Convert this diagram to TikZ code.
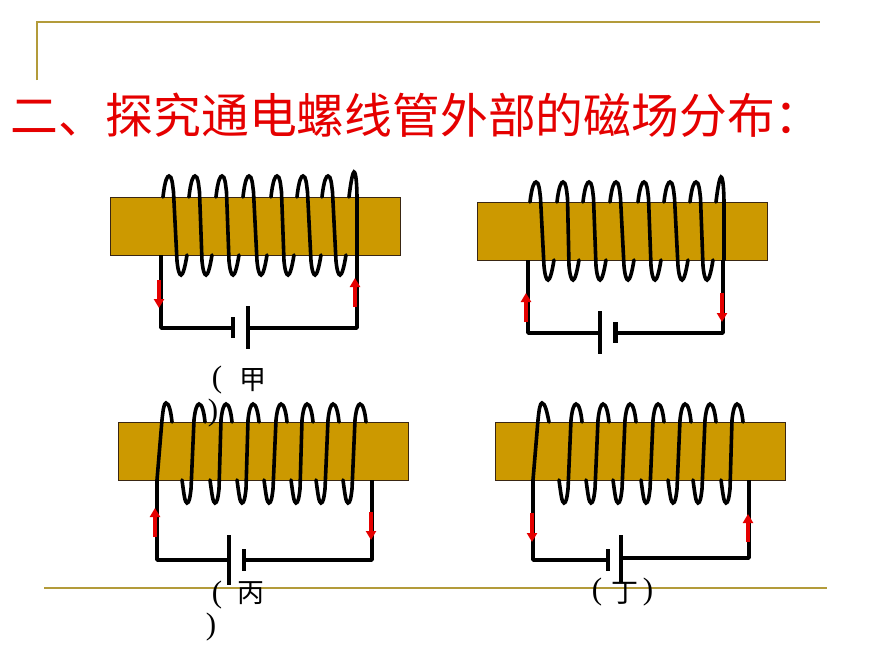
\documentclass[tikz,border=0pt]{standalone}
\usepackage{fontspec}
\newfontfamily\cjk{Noto Sans CJK SC}
\setmainfont{Liberation Serif}
\tikzset{
  wire/.style={line width=3.5pt,black,line join=round},
  coilw/.style={line width=3.6pt,black,line cap=round},
  core/.style={draw=black!70!brown,line width=0.6pt,fill=corecol,rectangle,minimum width=290pt,minimum height=58pt,inner sep=0pt,outer sep=0pt},
  frameline/.style={draw=framecol,line width=1.8pt},
  cur/.style={red!90!black,line width=3.8pt,-{Triangle[length=9pt,width=10pt]}},
  lab/.style={inner sep=0pt,font=\cjk\fontsize{27}{27}\selectfont},
  par/.style={inner sep=0pt,font=\fontsize{31}{31}\selectfont}
}
\usetikzlibrary{arrows.meta}
\definecolor{corecol}{HTML}{CC9900}
\definecolor{framecol}{HTML}{B39B3A}
% turn leaning right going down: px tx peakY topEdge bottomEdge troughY
\newcommand{\turnA}[6]{\draw[coilw] ({#1-6},#4) .. controls ({#1-4},{#3+3}) and ({#1-1.5},#3) .. (#1,#3) .. controls ({#1+3},#3) and ({#1+3.5},{#3+8}) .. ({#1+4.5},{#3+16}) -- ({#2-4},{#6-14}) .. controls ({#2-3},{#6-4}) and ({#2-1.5},#6) .. (#2,#6) .. controls ({#2+2},#6) and ({#2+4},{#6-8}) .. ({#2+6},#5);}
% turn leaning left going up: tx px peakY topEdge bottomEdge troughY
\newcommand{\turnB}[6]{\draw[coilw] ({#1-5},#5) .. controls ({#1-3},{#6-8}) and ({#1-2},#6) .. (#1,#6) .. controls ({#1+2},#6) and ({#1+3},{#6-5}) .. ({#1+4},{#6-14}) -- ({#2-5},{#3+16}) .. controls ({#2-4},{#3+6}) and ({#2-2},#3) .. (#2,#3) .. controls ({#2+3},#3) and ({#2+5},{#3+8}) .. ({#2+6},#4);}
\begin{document}
\begin{tikzpicture}[x=1pt,y=-1pt]
\useasboundingbox (0,0) rectangle (870,653);
\fill[white] (0,0) rectangle (870,653);
% frame
\coordinate (ftl) at (37,22); \coordinate (ftr) at (820,22); \coordinate (fbl) at (37,80);
\coordinate (bl) at (44,588); \coordinate (br) at (827,588);
\draw[frameline] (fbl) -- (ftl) -- (ftr);
\draw[frameline] (bl) -- (br);
\node[text=red!90!black,inner sep=0pt,anchor=west,font=\cjk\fontsize{47.8}{50}\selectfont] (title) at (10,115) {二、探究通电螺线管外部的磁场分布：};

% ---- panel jia
\node[core] (c1) at (255,226) {};
\foreach \p/\t in {169/181,195/206,222/233,249/261,277/288,303/315,328/340}{\turnA{\p}{\t}{176}{197}{255}{275}}
\draw[coilw] (349,197) .. controls (351,180) and (353,172) .. (354,172) .. controls (356,172) and (357,185) .. (357,200) -- (357,255);
\coordinate (a1) at (161,255); \coordinate (a2) at (161,328); \coordinate (a3) at (357,255); \coordinate (a4) at (357,328);
\coordinate (ps1) at (233,328); \coordinate (pl1) at (248,328);
\draw[wire] (a1) -- (a2) -- (ps1);
\draw[wire] (a3) -- (a4) -- (pl1);
\draw[wire] (233,317) -- (233,338);
\draw[wire] (248,306) -- (248,349);
\coordinate (r1a) at (159,280); \coordinate (r1b) at (159,308); \coordinate (r1c) at (355,307); \coordinate (r1d) at (355,278);
\draw[cur] (r1a) -- (r1b);
\draw[cur] (r1c) -- (r1d);

% ---- panel yi
\node[core] (c2) at (622,231) {};
\foreach \p/\t in {536/548,563/573,589/600,616/628,644/655,670/682,696/707}{\turnA{\p}{\t}{182}{202}{260}{280}}
\draw[coilw] (716,202) .. controls (718,185) and (720,177) .. (721,177) .. controls (723,177) and (724,190) .. (724,205) -- (724,260);
\coordinate (b1) at (528,260); \coordinate (b2) at (528,333); \coordinate (b3) at (723,260); \coordinate (b4) at (723,333);
\coordinate (ps2) at (615,333); \coordinate (pl2) at (600,333);
\draw[wire] (b1) -- (b2) -- (pl2);
\draw[wire] (b3) -- (b4) -- (ps2);
\draw[wire] (600,311) -- (600,354);
\draw[line width=5pt] (615,322) -- (615,343);
\coordinate (r2a) at (526,322); \coordinate (r2b) at (526,293); \coordinate (r2c) at (722,293); \coordinate (r2d) at (722,322);
\draw[cur] (r2a) -- (r2b);
\draw[cur] (r2c) -- (r2d);

% ---- panel bing
\node[core] (c3) at (263,451) {};
\draw[coilw] (157,480) -- (162,420) .. controls (163,410) and (164,403) .. (166,403) .. controls (169,403) and (171,412) .. (172,422);
\foreach \t/\p in {187/199,215/226,242/253,269/281,296/307,321/333,348/360}{\turnB{\t}{\p}{404}{422}{480}{503}}
\coordinate (d1) at (157,480); \coordinate (d2) at (157,560); \coordinate (d3) at (372,480); \coordinate (d4) at (372,560);
\coordinate (pl3) at (229,560); \coordinate (ps3) at (244,560);
\draw[wire] (d1) -- (d2) -- (pl3);
\draw[wire] (d3) -- (d4) -- (ps3);
\draw[wire] (229,535) -- (229,585);
\draw[wire] (244,549) -- (244,571);
\coordinate (r3a) at (155,537); \coordinate (r3b) at (155,508); \coordinate (r3c) at (371,512); \coordinate (r3d) at (371,540);
\draw[cur] (r3a) -- (r3b);
\draw[cur] (r3c) -- (r3d);

% ---- panel ding
\node[core] (c4) at (640,451) {};
\draw[coilw] (533,480) -- (538,420) .. controls (539,410) and (540,403) .. (542,403) .. controls (545,403) and (547,412) .. (549,422);
\foreach \t/\p in {564/576,591/603,618/630,646/658,673/685,698/710,726/737}{\turnB{\t}{\p}{404}{422}{480}{503}}
\coordinate (e1) at (533,480); \coordinate (e2) at (533,560); \coordinate (e3) at (749,480); \coordinate (e4) at (749,558);
\coordinate (ps4) at (608,560); \coordinate (pl4) at (621,558);
\draw[wire] (e1) -- (e2) -- (ps4);
\draw[wire] (e3) -- (e4) -- (pl4);
\draw[wire] (608,549) -- (608,571);
\draw[wire] (621,535) -- (621,583);
\coordinate (r4a) at (532,513); \coordinate (r4b) at (532,542); \coordinate (r4c) at (748,542); \coordinate (r4d) at (748,514);
\draw[cur] (r4a) -- (r4b);
\draw[cur] (r4c) -- (r4d);

% labels
\node[par] (l1a) at (217,380) {(};
\node[lab] (l1b) at (253,380) {甲};
\node[par] (l1c) at (213,413) {)};
\node[par] (l3a) at (217,595) {(};
\node[lab] (l3b) at (251,593) {丙};
\node[par] (l3c) at (211,627) {)};
\node[par] (l4a) at (597,592) {(};
\node[lab] (l4b) at (625,593) {丁};
\node[par] (l4c) at (648,592) {)};
\end{tikzpicture}
\end{document}
